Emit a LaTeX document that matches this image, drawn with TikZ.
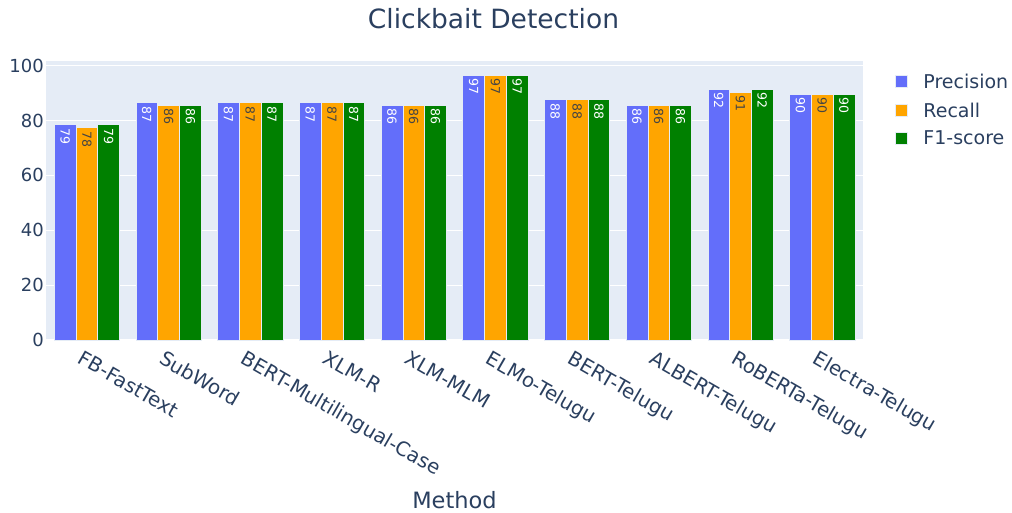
\documentclass[tikz,border=0pt]{standalone}
\usepackage{fontspec}
\setmainfont{DejaVu Sans}
\usepackage{xcolor}
\usetikzlibrary{positioning}

\definecolor{prec}{HTML}{636EFA}
\definecolor{rec}{HTML}{FFA500}
\definecolor{fone}{HTML}{008000}
\definecolor{plotbg}{HTML}{E5ECF6}
\definecolor{axtext}{HTML}{2A3F5F}
\definecolor{darklbl}{HTML}{444444}

\begin{document}
\begin{tikzpicture}[x=1pt, y=-1pt,
    every node/.style={text=axtext},
    bar/.style={draw=plotbg, line width=0.5pt},
    val/.style={rotate=-90, anchor=west, inner sep=0pt, font=\fontsize{12.5}{12.5}\selectfont},
    ylab/.style={anchor=east, inner sep=0pt, font=\fontsize{18}{18}\selectfont},
    xlab/.style={rotate=-30, anchor=north west, inner sep=0pt, font=\fontsize{19.8}{20}\selectfont},
    key/.style={draw=plotbg, line width=0.5pt, minimum size=12pt, inner sep=0pt},
    keytext/.style={inner sep=0pt, font=\fontsize{19}{19}\selectfont}]
    \useasboundingbox (0,0) rectangle (1012,512);

    % plot area and grid
    \fill[plotbg] (46,61) rectangle (863,341);
    \foreach \v in {20,40,60,80,100}
        \draw[white, line width=1pt] (46,{340-2.743*\v}) -- (863,{340-2.743*\v});
    \draw[white, line width=2pt] (46,340) -- (863,340);
    \foreach \v in {0,20,...,100}
        \node[ylab] (y\v) at (44,{340-2.743*\v}) {\v};

    % bars: method / precision / recall / f1
    \foreach \m/\p/\r/\f [count=\i from 0] in {
        FB-FastText/78.6/77.5/78.6, SubWord/86.6/85.6/85.6,
        BERT-Multilingual-Case/86.6/86.6/86.6, XLM-R/86.6/86.6/86.6,
        XLM-MLM/85.6/85.6/85.6, ELMo-Telugu/96.6/96.6/96.6,
        BERT-Telugu/87.6/87.6/87.6, ALBERT-Telugu/85.6/85.6/85.6,
        RoBERTa-Telugu/91.5/90.5/91.5, Electra-Telugu/89.7/89.7/89.7} {
        \pgfmathsetmacro\cx{46+81.7*(\i+0.5)}
        \pgfmathtruncatemacro\lp{round(\p)}
        \pgfmathtruncatemacro\lr{round(\r)}
        \pgfmathtruncatemacro\lf{round(\f)}
        \draw[bar, fill=prec] ({\cx-32.68},340) rectangle ({\cx-10.89},{340-2.743*\p});
        \draw[bar, fill=rec] ({\cx-10.89},340) rectangle ({\cx+10.89},{340-2.743*\r});
        \draw[bar, fill=fone] ({\cx+10.89},340) rectangle ({\cx+32.68},{340-2.743*\f});
        \node[val, text=white] (p\i) at ({\cx-21.79},{343.5-2.743*\p}) {\lp};
        \node[val, text=darklbl] (r\i) at (\cx,{343.5-2.743*\r}) {\lr};
        \node[val, text=white] (f\i) at ({\cx+21.79},{343.5-2.743*\f}) {\lf};
        \node[xlab] (m\i) at ({\cx-3},349.5) {\m};
    }

    % titles
    \node[anchor=base, font=\fontsize{26.5}{27}\selectfont] (title) at (493.5,28) {Clickbait Detection};
    \node[anchor=base, font=\fontsize{22.5}{23}\selectfont] (axis) at (454.5,508) {Method};

    % legend
    \node[key, fill=prec] (kp) at (901,81) {};
    \node[key, fill=rec] (kr) at (901,110) {};
    \node[key, fill=fone] (kf) at (901,138) {};
    \node[keytext, right=16pt of kp] (lp) {Precision};
    \node[keytext, right=16pt of kr] (lr) {Recall};
    \node[keytext, right=16pt of kf] (lf) {F1-score};
\end{tikzpicture}
\end{document}
